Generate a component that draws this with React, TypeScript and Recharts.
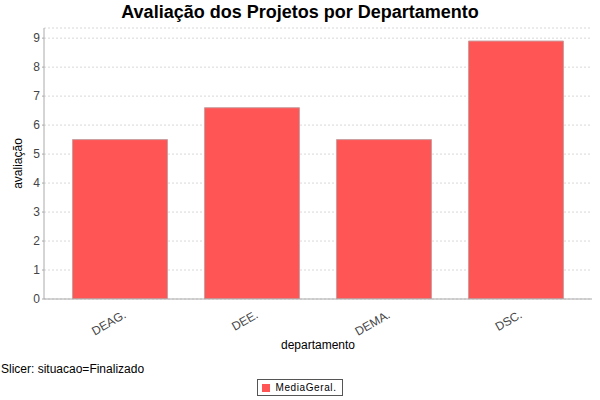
import { Bar, BarChart, CartesianGrid, Label, Legend, XAxis, YAxis } from 'recharts';

const departamentos = ['DEAG.', 'DEE.', 'DEMA.', 'DSC.'];
const mediaGeral = [5.5, 6.6, 5.5, 8.9];
const yTicks = [0, 1, 2, 3, 4, 5, 6, 7, 8, 9];

const data = departamentos.map((d, i) => ({ departamento: d, 'MediaGeral.': mediaGeral[i] }));

const FONT = '"Liberation Sans", Arial, sans-serif';

const RotatedTick = (props: any) => {
  const { x, y, payload } = props;
  return (
    <text
      x={x + 7}
      y={y + 10}
      transform={`rotate(-30, ${x + 7}, ${y + 10})`}
      textAnchor="end"
      fontSize={12}
      fontFamily={FONT}
      fill="#444"
    >
      {payload.value}
    </text>
  );
};

const LegendBox = () => (
  <div style={{ display: 'flex', justifyContent: 'center' }}>
    <div
      style={{
        border: '1px solid #555',
        padding: '2px 5px 2px 4px',
        display: 'flex',
        alignItems: 'center',
        fontFamily: FONT,
        fontSize: 10,
        letterSpacing: 0.6,
        color: '#000',
        background: '#fff',
      }}
    >
      <span style={{ width: 8, height: 8, background: '#ff5555', marginRight: 5, display: 'inline-block' }} />
      MediaGeral.
    </div>
  </div>
);

export default function App() {
  return (
    <div style={{ position: 'absolute', left: 0, top: 0, width: 600, height: 400, background: '#fff' }}>
      <div
        style={{
          position: 'absolute',
          top: 2,
          width: 600,
          textAlign: 'center',
          fontFamily: FONT,
          fontWeight: 'bold',
          fontSize: 18,
        }}
      >
        Avaliação dos Projetos por Departamento
      </div>
      <div style={{ position: 'absolute', left: 1, top: 362, fontFamily: FONT, fontSize: 12 }}>
        Slicer: situacao=Finalizado
      </div>
      <BarChart
        width={600}
        height={400}
        data={data}
        margin={{ top: 28, right: 8, bottom: 24, left: 0 }}
        barCategoryGap="14%"
      >
        <CartesianGrid vertical={false} stroke="#d8d8d8" strokeDasharray="2 2" />
        <XAxis
          dataKey="departamento"
          height={60}
          interval={0}
          padding={{ left: 10, right: 10 }}
          tick={<RotatedTick />}
          tickLine={false}
          axisLine={{ stroke: '#aaa' }}
        >
          <Label value="departamento" position="insideBottom" offset={10} fontSize={12} fontFamily={FONT} fill="#000" />
        </XAxis>
        <XAxis xAxisId="top" orientation="top" height={0} tick={false} tickLine={false} axisLine={{ stroke: '#aaa' }} />
        <YAxis
          domain={[0, 9.35]}
          ticks={yTicks}
          allowDataOverflow
          width={44}
          tickSize={2}
          tickLine={{ stroke: '#aaa' }}
          axisLine={{ stroke: '#aaa' }}
          tick={{ fontSize: 12, fontFamily: FONT, fill: '#444' }}
        >
          <Label value="avaliação" angle={-90} position="insideLeft" offset={18} fontSize={12} fontFamily={FONT} fill="#000" style={{ textAnchor: 'middle' }} />
        </YAxis>
        <YAxis yAxisId="right" orientation="right" width={0} tick={false} tickLine={false} axisLine={{ stroke: '#aaa' }} />
        <Legend
          content={<LegendBox />}
          wrapperStyle={{ position: 'absolute', top: 379, left: 0, width: 600 }}
        />
        <Bar dataKey="MediaGeral." fill="#ff5555" stroke="#c8a0a0" strokeWidth={1} isAnimationActive={false} />
      </BarChart>
    </div>
  );
}
